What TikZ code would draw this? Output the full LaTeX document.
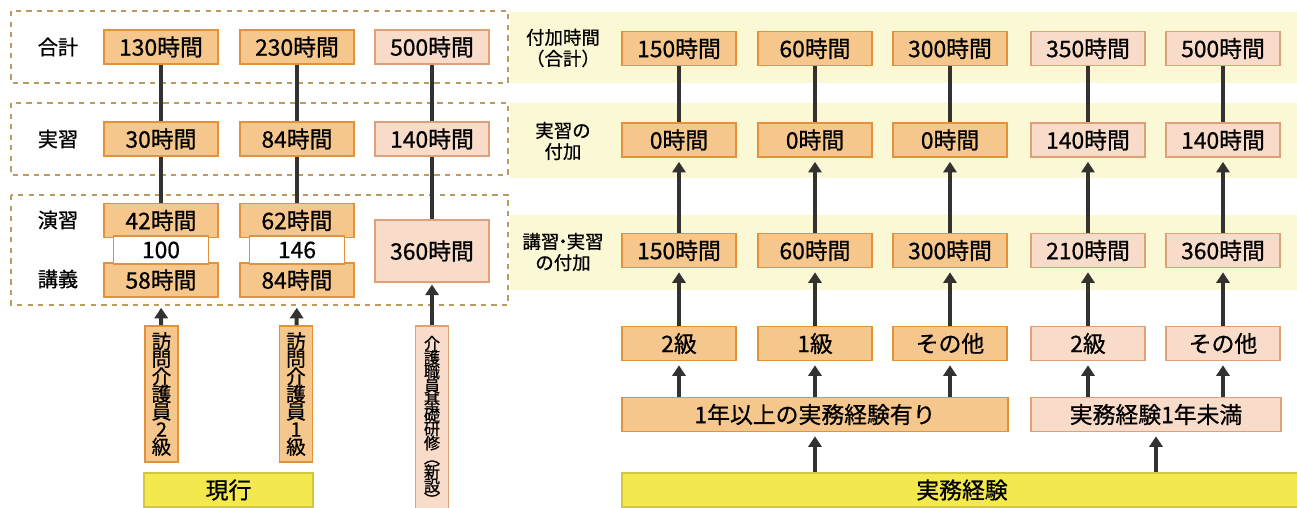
\documentclass[tikz,border=0pt]{standalone}
\usepackage{fontspec}
\setmainfont{Noto Sans CJK JP}[FakeBold=0.7]
\usetikzlibrary{arrows.meta}
\definecolor{orfill}{RGB}{245,199,140}
\definecolor{ordraw}{RGB}{226,146,58}
\definecolor{pkfill}{RGB}{248,219,200}
\definecolor{pkdraw}{RGB}{222,160,118}
\definecolor{yefill}{RGB}{243,232,78}
\definecolor{yedraw}{RGB}{214,198,60}
\definecolor{bandcol}{RGB}{251,248,214}
\definecolor{dashcol}{RGB}{186,156,96}
\definecolor{linkcol}{RGB}{52,50,48}
\begin{document}
\begin{tikzpicture}[x=0.02cm,y=-0.02cm,
  every node/.style={font=\fontsize{13}{14}\selectfont,inner sep=0pt},
  obox/.style={draw=ordraw,fill=orfill,line width=0.9pt,
    minimum width=2.27cm,minimum height=0.68cm},
  pbox/.style={obox,draw=pkdraw,fill=pkfill},
  wbox/.style={obox,fill=white,minimum width=1.9cm,minimum height=0.56cm},
  ybox/.style={draw=yedraw,fill=yefill,line width=0.9pt,minimum height=0.68cm},
  vbox/.style={draw=ordraw,fill=orfill,line width=0.9pt,align=center,
    minimum width=0.66cm,
    font={\fontsize{11.2}{10}\selectfont\lineskiplimit-20pt}},
  rowlabel/.style={align=center,font=\fontsize{11.5}{12}\selectfont},
  dashbox/.style={draw=dashcol,line width=1.1pt,dash pattern=on 3pt off 3pt},
  link/.style={draw=linkcol,line width=2.3pt},
  uparr/.style={link,-{Triangle[width=7.5pt,length=6pt]},shorten >=2.3pt}]
\clip (0,0) rectangle (1297,507);
\fill[white] (0,0) rectangle (1297,507);

% bands behind the right half
\fill[bandcol] (510,12) rectangle (1297,83);
\fill[bandcol] (510,103) rectangle (1297,178);
\fill[bandcol] (510,215) rectangle (1297,290);

% dashed groups on the left
\draw[dashbox] (11,11) rectangle (508,83);
\draw[dashbox] (11,103) rectangle (508,175);
\draw[dashbox] (11,195) rectangle (508,305);

\node[rowlabel] (tgoukei) at (58,47) {合計};
\node[rowlabel] (tjisshu) at (58,139) {実習};
\node[rowlabel] (tenshu) at (58,220) {演習};
\node[rowlabel] (tkougi) at (58,279) {講義};

% current courses
\node[obox] (a130) at (161,47) {130時間};
\node[obox] (a30) at (161,139) {30時間};
\node[obox] (a42) at (161,220.5) {42時間};
\node[obox] (a58) at (161,280) {58時間};
\node[wbox] (a100) at (161,250) {100};
\node[obox] (b230) at (297,47) {230時間};
\node[obox] (b84) at (297,139) {84時間};
\node[obox] (b62) at (297,220.5) {62時間};
\node[obox] (b84k) at (297,280) {84時間};
\node[wbox] (b146) at (297,250) {146};
\node[pbox] (c500) at (432,47) {500時間};
\node[pbox] (c140) at (432,139) {140時間};
\node[pbox,minimum height=1.24cm] (c360) at (432,251) {360時間};

\node[vbox,minimum height=2.72cm] (v2kyu) at (161.5,394) {訪\\問\\介\\護\\員\\2\\級};
\node[vbox,minimum height=2.72cm] (v1kyu) at (296,394) {訪\\問\\介\\護\\員\\1\\級};
\node[vbox,draw=pkdraw,fill=pkfill,minimum height=3.8cm,
  font={\fontsize{9.2}{8.1}\selectfont\lineskiplimit-20pt}] (vkiso) at (432,421)
  {介\\護\\職\\員\\基\\礎\\研\\修\\︵\\新\\設\\︶};
\node[ybox,minimum width=3.38cm] (genkou) at (228.5,490) {現行};

\draw[link] (a130) -- (a30);
\draw[link] (a30) -- (a42);
\draw[link] (b230) -- (b84);
\draw[link] (b84) -- (b62);
\draw[link] (c500) -- (c140);
\draw[link] (c140) -- (c360);
\draw[uparr,shorten >=5.7pt] (v2kyu) -- (a58);
\draw[uparr,shorten >=5.7pt] (v1kyu) -- (b84k);
\draw[uparr,shorten >=1pt] (vkiso) -- (c360);

% new scheme on the right
\node[rowlabel,font=\fontsize{10.5}{12}\selectfont] (tfuka) at (563,48) {付加時間\\（合計）};
\node[rowlabel,font=\fontsize{10.5}{12}\selectfont] (tjfuka) at (563,141) {実習の\\付加};
\node[rowlabel,font=\fontsize{10.5}{12}\selectfont] (tkfuka) at (563,252)
  {講習\kern-.3em・\kern-.3em実習\\の付加};

\node[obox] (p1) at (679,48.5) {150時間};
\node[obox] (q1) at (815,48.5) {60時間};
\node[obox] (s1) at (950,48.5) {300時間};
\node[pbox] (t1) at (1088,48.5) {350時間};
\node[pbox] (u1) at (1223,48.5) {500時間};

\node[obox] (p2) at (679,140) {0時間};
\node[obox] (q2) at (815,140) {0時間};
\node[obox] (s2) at (950,140) {0時間};
\node[pbox] (t2) at (1088,140) {140時間};
\node[pbox] (u2) at (1223,140) {140時間};

\node[obox] (p3) at (679,250.5) {150時間};
\node[obox] (q3) at (815,250.5) {60時間};
\node[obox] (s3) at (950,250.5) {300時間};
\node[pbox] (t3) at (1088,250.5) {210時間};
\node[pbox] (u3) at (1223,250.5) {360時間};

\node[obox] (p4) at (679,343.5) {2級};
\node[obox] (q4) at (815,343.5) {1級};
\node[obox] (s4) at (950,343.5) {その他};
\node[pbox] (t4) at (1088,343.5) {2級};
\node[pbox] (u4) at (1223,343.5) {その他};

\node[obox,minimum width=7.72cm] (over1) at (815,414.5) {1年以上の実務経験有り};
\node[pbox,minimum width=5.0cm] (under1) at (1156,414.5) {実務経験1年未満};
\node[ybox,minimum width=13.6cm] (jitsumu) at (962,490) {実務経験};

\foreach \c in {p,q,s,t,u}{
  \draw[link] (\c2) -- (\c1);
  \draw[uparr] (\c3) -- (\c2);
  \draw[uparr] (\c4) -- (\c3);
}
\foreach \c in {p,q,s}
  \draw[uparr] (over1.north -| \c4) -- (\c4);
\foreach \c in {t,u}
  \draw[uparr] (under1.north -| \c4) -- (\c4);
\draw[uparr] (jitsumu.north -| over1) -- (over1);
\draw[uparr] (jitsumu.north -| under1) -- (under1);
\end{tikzpicture}
\end{document}
